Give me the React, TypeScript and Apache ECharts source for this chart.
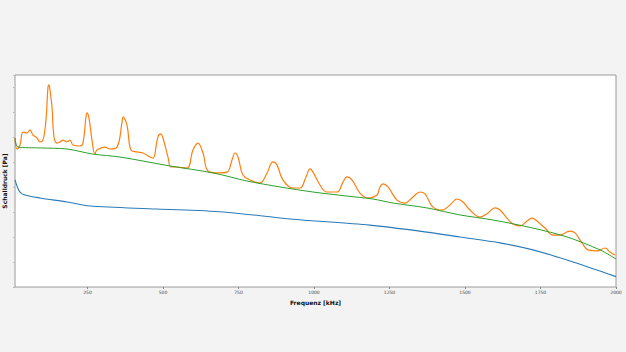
import React, { useEffect, useRef } from "react";
import * as echarts from "echarts";

// Frequency in kHz, level in arbitrary units (no y labels in the reference)
const blueF = [10, 16.6, 26.5, 43, 92.7, 182, 258, 480, 699, 920, 1185, 1374, 1483, 1616, 1725, 1838, 1947, 2000];
const blueV = [50.5, 47.6, 44.8, 43.4, 42.0, 40.1, 38.2, 36.8, 35.4, 32.1, 29.2, 25.9, 23.6, 20.8, 17.5, 12.7, 7.5, 4.9];

const greenF = [10, 20, 93, 182, 268, 358, 523, 666, 778, 887, 997, 1109, 1195, 1262, 1374, 1483, 1593, 1725, 1838, 1947, 2000];
const greenV = [70.3, 66.0, 65.6, 65.1, 62.7, 61.3, 57.1, 53.8, 50.0, 47.2, 44.8, 42.9, 41.5, 39.6, 37.3, 34.0, 31.6, 27.8, 23.6, 17.5, 13.2];

const orangeF = [
  10, 16.6, 26.5, 36.4, 49.7, 59.6, 69.5, 82.8, 92.7, 102.6, 112.6, 119.2, 122.5, 125.8, 132.5, 139.1, 149, 158.9,
  168.9, 182.1, 192, 202, 225.2, 235.1, 245, 248.3, 255, 264.9, 274.8, 281.5, 307.9, 324.5, 347.7, 364.2, 367.5,
  380.8, 394, 413.9, 433.8, 457, 466.9, 483.4, 493.4, 500, 516.6, 526.5, 546.4, 579.5, 599.3, 615.9, 632.5, 649,
  678.8, 711.9, 728.5, 738.4, 748.3, 764.9, 788.1, 821.2, 844.4, 864.2, 877.5, 897.4, 930.5, 953.6, 973.5, 986.8,
  996.7, 1019.9, 1043, 1076.2, 1096, 1109.3, 1125.8, 1152.3, 1178.8, 1208.6, 1218.5, 1228.5, 1245, 1274.8, 1301.3,
  1327.8, 1351, 1367.5, 1394, 1423.8, 1450.3, 1473.5, 1493.4, 1516.6, 1549.7, 1576.2, 1599.3, 1615.9, 1639.1,
  1658.9, 1682.1, 1705.3, 1721.9, 1738.4, 1764.9, 1791.4, 1814.6, 1831.1, 1847.7, 1864.2, 1887.4, 1907.3, 1937.1,
  1963.6, 1980.1, 1996.7,
];
const orangeV = [
  70.3, 65.1, 67.0, 73.1, 72.6, 74.1, 71.7, 70.3, 68.4, 69.3, 78.8, 94.3, 95.3, 92.9, 84.9, 70.8, 67.9, 68.4,
  69.3, 68.4, 69.3, 67.0, 66.5, 67.9, 80.2, 82.1, 79.7, 69.3, 62.7, 64.6, 66.0, 65.1, 66.0, 77.4, 80.2,
  76.4, 64.6, 63.7, 63.2, 61.3, 60.8, 70.8, 72.2, 70.3, 61.3, 56.6, 56.6, 56.1, 64.6, 67.9, 63.2, 54.7,
  53.8, 54.2, 59.9, 63.2, 61.3, 52.8, 50.5, 49.1, 53.8, 59.0, 57.5, 50.5, 46.7, 46.7, 51.9, 55.7,
  54.2, 48.1, 44.8, 44.8, 49.5, 51.9, 50.5, 44.3, 42.0, 43.4, 47.2, 48.6, 47.2, 41.0, 39.6,
  42.5, 44.8, 43.9, 37.7, 36.3, 38.7, 41.5, 40.1, 36.3, 33.0, 34.9, 37.3, 36.3, 32.5,
  29.7, 28.8, 31.1, 32.5, 31.1, 27.8, 24.5, 24.5, 25.5, 26.4, 25.5, 20.8, 17.5, 17.0,
  18.4, 16.5, 15.1,
];

const xTicks = [250, 500, 750, 1000, 1250, 1500, 1750, 2000];

const zip = (a: number[], b: number[]) => a.map((v, i) => [v, b[i]]);

export default function App() {
  const ref = useRef<HTMLDivElement>(null);
  useEffect(() => {
    document.body.style.margin = "0";
    const chart = echarts.init(ref.current!, null, { renderer: "svg" });
    chart.setOption({
      animation: false,
      backgroundColor: "#f3f3f3",
      textStyle: { fontFamily: "DejaVu Sans" },
      grid: {
        left: 15,
        right: 10,
        top: 75,
        bottom: 65,
        outerBoundsMode: "none",
        containLabel: false,
        show: true,
        backgroundColor: "#ffffff",
        borderColor: "#9a9a9a",
        borderWidth: 1,
      },
      xAxis: {
        type: "value",
        min: 10,
        max: 2000,
        name: "Frequenz [kHz]",
        nameLocation: "middle",
        nameGap: 10,
        nameTextStyle: { fontSize: 6, fontWeight: "bold", color: "#111" },
        axisLine: { show: false },
        splitLine: { show: false },
        axisTick: { show: true, customValues: xTicks, length: 2, lineStyle: { color: "#888" } },
        axisLabel: {
          customValues: xTicks,
          fontSize: 4.5,
          color: "#444",
          margin: 3,
          formatter: (v: number) => String(v),
        },
      },
      yAxis: {
        type: "value",
        min: 0,
        max: 100,
        interval: 11.792,
        name: "Schalldruck [Pa]",
        nameLocation: "middle",
        nameGap: 8,
        nameTextStyle: { fontSize: 6, fontWeight: "bold", color: "#111" },
        axisLine: { show: false },
        splitLine: { show: false },
        axisTick: { show: true, length: 2, lineStyle: { color: "#bbb" } },
        axisLabel: { show: false },
      },
      series: [
        {
          type: "line",
          data: zip(blueF, blueV),
          showSymbol: false,
          smooth: 0.3,
          lineStyle: { color: "#2a7ab8", width: 1.1 },
        },
        {
          type: "line",
          data: zip(orangeF, orangeV),
          showSymbol: false,
          smooth: 0.4,
          lineStyle: { color: "#ff7f0e", width: 1.2 },
        },
        {
          type: "line",
          data: zip(greenF, greenV),
          showSymbol: false,
          smooth: 0.3,
          lineStyle: { color: "#2ca02c", width: 1.0 },
        },
      ],
    });
    return () => chart.dispose();
  }, []);
  return <div ref={ref} style={{ width: 626, height: 352 }} />;
}
